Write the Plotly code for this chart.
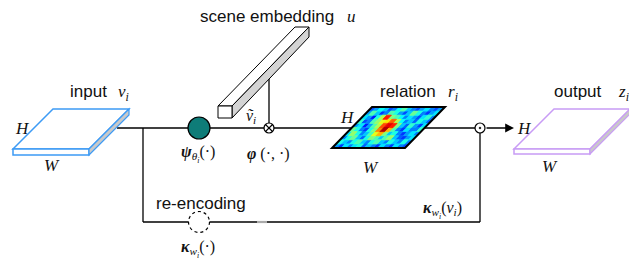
import plotly.graph_objects as go
from plotly.colors import sample_colorscale

# ---------------- data ----------------
relation_map = [
    [0.20, 0.28, 0.38, 0.32, 0.20, 0.25, 0.38, 0.45, 0.32, 0.25, 0.20, 0.28, 0.35, 0.25, 0.20, 0.28],
    [0.28, 0.45, 0.32, 0.18, 0.25, 0.45, 0.40, 0.28, 0.20, 0.32, 0.48, 0.40, 0.25, 0.18, 0.28, 0.35],
    [0.35, 0.28, 0.15, 0.40, 0.55, 0.85, 0.50, 0.45, 0.38, 0.25, 0.35, 0.28, 0.20, 0.35, 0.42, 0.25],
    [0.42, 0.20, 0.25, 0.45, 0.52, 0.60, 0.65, 0.78, 0.55, 0.38, 0.25, 0.32, 0.22, 0.40, 0.32, 0.22],
    [0.28, 0.35, 0.15, 0.28, 0.45, 0.55, 0.80, 0.90, 0.85, 0.50, 0.32, 0.22, 0.42, 0.28, 0.18, 0.35],
    [0.48, 0.40, 0.25, 0.18, 0.40, 0.50, 0.75, 0.95, 0.70, 0.45, 0.25, 0.18, 0.35, 0.25, 0.25, 0.42],
    [0.35, 0.52, 0.40, 0.25, 0.32, 0.45, 0.60, 0.70, 0.50, 0.32, 0.40, 0.25, 0.18, 0.28, 0.35, 0.25],
    [0.25, 0.40, 0.48, 0.32, 0.22, 0.40, 0.50, 0.45, 0.32, 0.45, 0.52, 0.32, 0.22, 0.18, 0.28, 0.35],
    [0.40, 0.32, 0.25, 0.40, 0.45, 0.32, 0.25, 0.40, 0.45, 0.32, 0.25, 0.40, 0.32, 0.25, 0.40, 0.25],
    [0.28, 0.18, 0.35, 0.25, 0.35, 0.40, 0.22, 0.32, 0.25, 0.18, 0.35, 0.25, 0.18, 0.35, 0.25, 0.20],
]
labels_text = ["scene embedding", "input", "relation", "output", "re-encoding"]

# ---------------- style ----------------
JET = [[0.0, "rgb(0,0,143)"], [0.125, "rgb(0,0,255)"], [0.375, "rgb(0,255,255)"],
       [0.625, "rgb(255,255,0)"], [0.875, "rgb(255,0,0)"], [1.0, "rgb(128,0,0)"]]
BLUE = "#3d9bf5"
PURPLE = "#c89cf5"
SIDE = "#c9c9c9"
TEAL = "#0e7c78"
SANS = "Liberation Sans, Arial, sans-serif"
SERIF = "Liberation Serif, Times New Roman, serif"
OFF = 8  # page body margin compensation

fig = go.Figure()
shapes = []
annotations = []


def line(x0, y0, x1, y1, color="black", width=1.3, layer="below"):
    shapes.append(dict(type="line", x0=x0, y0=y0, x1=x1, y1=y1, layer=layer,
                       line=dict(color=color, width=width)))


def poly(pts, fill, color, width=1.2, layer="above"):
    path = "M" + " L".join(f"{x},{y}" for x, y in pts) + " Z"
    shapes.append(dict(type="path", path=path, fillcolor=fill, layer=layer,
                       line=dict(color=color, width=width)))


def circle(cx, cy, r, fill, color, width=1.2, dash="solid"):
    shapes.append(dict(type="circle", x0=cx - r, x1=cx + r, y0=cy - r, y1=cy + r,
                       fillcolor=fill, layer="above",
                       line=dict(color=color, width=width, dash=dash)))


def text(x, y, s, size=17, family=SANS, color="#111111", xanchor="center"):
    annotations.append(dict(x=x, y=y, text=s, showarrow=False, xanchor=xanchor,
                            yanchor="middle", font=dict(size=size, family=family, color=color)))


# ---------------- connecting lines ----------------
line(117, 128, 480, 128)
line(143, 128, 143, 222)
line(143, 222, 480, 222)
line(480, 128, 480, 222)
line(269, 128, 269, 78)
line(257, 222, 267, 222, color="#aaaaaa", width=2.2)

# ---------------- relation heat map (skewed) ----------------
R = len(relation_map)
C = len(relation_map[0])


def pt(u, v):
    return 372 - 40 * v + 73 * u, 107 + 41 * v


groups = {}
for r in range(R):
    for c in range(C):
        val = relation_map[r][c]
        corners = [pt(c / C, r / R), pt((c + 1) / C, r / R),
                   pt((c + 1) / C, (r + 1) / R), pt(c / C, (r + 1) / R)]
        g = groups.setdefault(val, ([], []))
        for x, y in corners + [corners[0]]:
            g[0].append(x)
            g[1].append(y)
        g[0].append(None)
        g[1].append(None)

for val, (xs, ys) in sorted(groups.items()):
    col = sample_colorscale(JET, [val])[0]
    fig.add_trace(go.Scatter(x=xs, y=ys, mode="lines", fill="toself", fillcolor=col,
                             line=dict(color=col, width=0.8), hoverinfo="skip",
                             showlegend=False))

poly([pt(0, 0), pt(1, 0), pt(1, 1), pt(0, 1)], "rgba(0,0,0,0)", "black", width=2)

# ---------------- input slab ----------------
poly([(53, 109), (129, 109), (89, 149), (13, 149)], "white", BLUE, 1.5)
poly([(13, 149), (89, 149), (89, 155), (13, 155)], "white", BLUE, 1.5)
poly([(89, 149), (129, 109), (129, 115), (89, 155)], SIDE, BLUE, 1.2)

# ---------------- output slab ----------------
poly([(554, 109), (630, 109), (590, 149), (514, 149)], "white", PURPLE, 1.5)
poly([(514, 149), (590, 149), (590, 154), (514, 154)], "white", PURPLE, 1.5)
poly([(590, 149), (630, 109), (630, 114), (590, 154)], SIDE, PURPLE, 1.2)

# ---------------- scene embedding bar ----------------
poly([(218, 106), (295, 27), (309, 27), (232, 106)], "white", "black", 1.0)
poly([(232, 106), (309, 27), (309, 37), (232, 118)], "#d4d4d4", "black", 1.0)
poly([(218, 106), (232, 106), (232, 118), (218, 118)], "white", "black", 1.0)

# ---------------- operators ----------------
circle(199, 128, 11, TEAL, "black", 1.2)
circle(269, 128, 5, "white", "black", 1.2)
line(265.5, 124.5, 272.5, 131.5, width=1.1, layer="above")
line(265.5, 131.5, 272.5, 124.5, width=1.1, layer="above")
circle(480, 128, 5, "white", "black", 1.2)
circle(480, 128, 0.9, "black", "black", 0.5)
circle(199, 222, 10.5, "white", "black", 1.2, dash="dot")

annotations.append(dict(x=514, y=128, ax=485, ay=128, xref="x", yref="y", axref="x", ayref="y",
                        text="", showarrow=True, arrowhead=2, arrowsize=1.1, arrowwidth=1.6,
                        arrowcolor="black"))

# ---------------- labels ----------------
text(267, 16, labels_text[0])
text(351, 16, "<i>u</i>", size=17, family=SERIF)
text(88, 91, labels_text[1])
text(123, 93, "<i>v</i><sub><i>i</i></sub>", size=17, family=SERIF)
text(408, 91, labels_text[2])
text(453, 93, "<i>r</i><sub><i>i</i></sub>", size=17, family=SERIF)
text(578, 91, labels_text[3])
text(623, 93, "<i>z</i><sub><i>i</i></sub>", size=17, family=SERIF)
text(201, 203, labels_text[4])

text(22, 128, "<i>H</i>", family=SERIF)
text(52, 165, "<i>W</i>", family=SERIF)
text(347, 117, "<i>H</i>", family=SERIF)
text(371, 167, "<i>W</i>", family=SERIF)
text(524, 128, "<i>H</i>", family=SERIF)
text(550, 166, "<i>W</i>", family=SERIF)

text(251, 116, "<i>ṽ</i><sub><i>i</i></sub>", size=16, family=SERIF)
text(198, 154, "<b><i>ψ</i></b><sub><i>θ<sub>i</sub></i></sub>(·)", size=16, family=SERIF)
text(268, 154, "<b><i>φ</i></b> (·, ·)", size=16, family=SERIF)
text(442, 210, "<b><i>κ</i></b><sub><i>w<sub>i</sub></i></sub>(<i>v<sub>i</sub></i>)", size=16, family=SERIF)
text(198, 249, "<b><i>κ</i></b><sub><i>w<sub>i</sub></i></sub>(·)", size=16, family=SERIF)

fig.update_layout(
    width=637, height=261, margin=dict(l=0, r=0, t=0, b=0),
    paper_bgcolor="white", plot_bgcolor="white",
    xaxis=dict(range=[OFF, 637 + OFF], visible=False, fixedrange=True),
    yaxis=dict(range=[261 + OFF, OFF], visible=False, fixedrange=True),
    shapes=shapes, annotations=annotations, showlegend=False,
)
fig.write_html("out.html")
